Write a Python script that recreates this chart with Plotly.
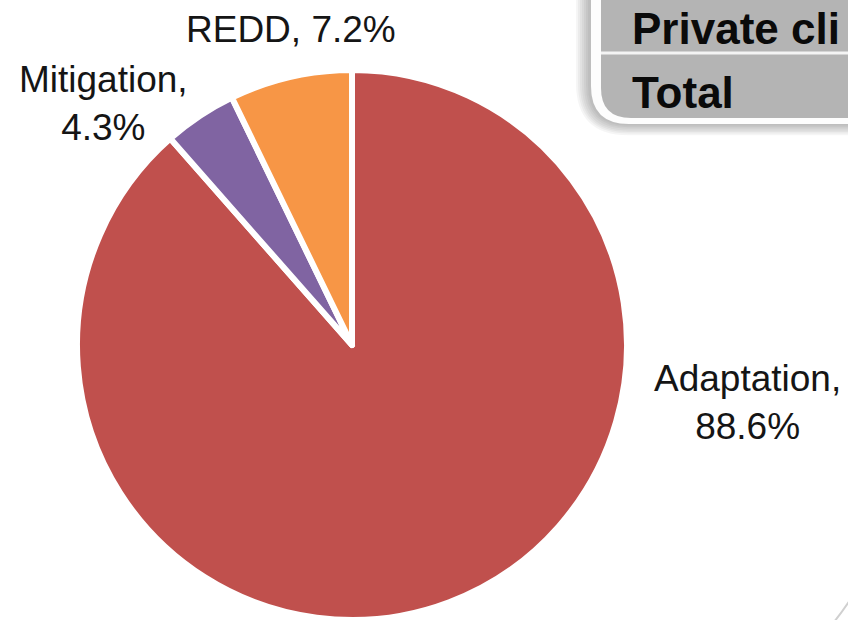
import plotly.graph_objects as go

# ---- data ----
categories = ["Adaptation", "Mitigation", "REDD"]
shares = [88.6, 4.3, 7.2]
slice_colors = ["#C0504D", "#8064A2", "#F79646"]
table_rows = ["Private cli", "Total"]

W, H = 848, 620


def px(x, y):
    return x / W, 1 - y / H


def P(x, y):
    a, b = px(x, y)
    return f"{a:.5f},{b:.5f}"


def box_path(left, bottom, r, right=W + 20, top=-20):
    return (f"M {P(left, top)} L {P(left, bottom - r)} "
            f"Q {P(left, bottom)} {P(left + r, bottom)} "
            f"L {P(right, bottom)} L {P(right, top)} Z")


fig = go.Figure()

# pie centre ~ (352, 345) px, domain half-size 275 px
cx, cy, R = 352, 345, 275
fig.add_trace(go.Pie(
    labels=categories,
    values=shares,
    sort=False,
    direction="clockwise",
    rotation=0,
    marker=dict(colors=slice_colors, line=dict(color="white", width=6)),
    textinfo="none",
    hoverinfo="label+percent",
    showlegend=False,
    domain=dict(x=[max(0, (cx - R) / W), min(1, (cx + R) / W)],
                y=[max(0.0, (H - cy - R) / H), min(1.0, (H - cy + R) / H)]),
))

# ---- slice labels ----
label_pos = {
    "Adaptation": (747, 402),
    "Mitigation": (103, 104),
    "REDD": (291, 30),
}
for name, val in zip(categories, shares):
    if name == "REDD":
        txt = f"{name}, {val}%"
    else:
        txt = f"{name},<br>{val}%"
    x, y = px(*label_pos[name])
    fig.add_annotation(x=x, y=y, xref="paper", yref="paper", text=txt,
                       showarrow=False, xanchor="center", yanchor="middle",
                       align="center",
                       font=dict(family="Liberation Sans, Arial", size=37,
                                 color="#151515"))

# ---- partially visible table box (top-right) ----
shapes = []
# soft shadow
for k in range(7, 0, -1):
    shapes.append(dict(type="path", xref="paper", yref="paper",
                       path=box_path(590 - k * 2, 124 + k * 1.6, 38 + k * 2),
                       fillcolor="rgba(0,0,0,0.04)", line=dict(width=0),
                       layer="above"))
# white border
shapes.append(dict(type="path", xref="paper", yref="paper",
                   path=box_path(591, 124, 38), fillcolor="#FDFDFD",
                   line=dict(width=0), layer="above"))
# grey body
shapes.append(dict(type="path", xref="paper", yref="paper",
                   path=box_path(601, 118, 30), fillcolor="#B4B4B4",
                   line=dict(width=0), layer="above"))
# row separator
x0, y0 = px(601, 53)
x1, _ = px(W + 5, 53)
shapes.append(dict(type="line", xref="paper", yref="paper",
                   x0=x0, y0=y0, x1=x1, y1=y0,
                   line=dict(color="#F4F4F4", width=3), layer="above"))
# faint edge of another element at bottom-right corner
shapes.append(dict(type="path", xref="paper", yref="paper",
                   path=f"M {P(834, 622)} Q {P(842, 612)} {P(850, 600)}",
                   line=dict(color="#D0D0D0", width=2), layer="above"))
fig.update_layout(shapes=shapes)

row_y = [28, 92]
for txt, yy in zip(table_rows, row_y):
    x, y = px(630, yy)
    fig.add_annotation(x=x, y=y, xref="paper", yref="paper", text=f"<b>{txt}</b>",
                       showarrow=False, xanchor="left", yanchor="middle",
                       font=dict(family="Liberation Sans, Arial", size=44,
                                 color="#0A0A0A"))

fig.update_layout(
    width=W, height=H,
    margin=dict(l=0, r=0, t=0, b=0),
    paper_bgcolor="white",
    plot_bgcolor="white",
)

fig.write_html("out.html")
